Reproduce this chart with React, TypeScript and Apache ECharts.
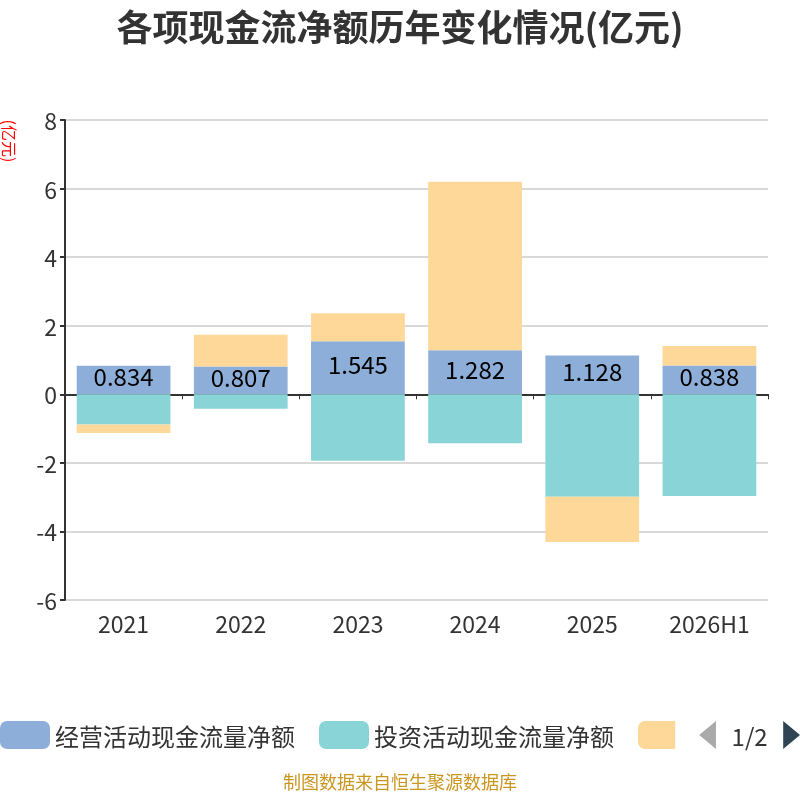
import * as echarts from 'echarts';
import { useEffect, useRef } from 'react';

const years = ['2021', '2022', '2023', '2024', '2025', '2026H1'];
const seriesNames = ['经营活动现金流量净额', '投资活动现金流量净额', '筹资活动现金流量净额'];
const operating = [0.834, 0.807, 1.545, 1.282, 1.128, 0.838];
const investing = [-0.88, -0.42, -1.94, -1.43, -2.99, -2.97];
const financing = [-0.25, 0.93, 0.82, 4.92, -1.32, 0.57];
const colors = ['#8eaeda', '#88d4d7', '#fed899'];

const font = 'Noto Sans CJK SC';

export default function App() {
  const container = useRef<HTMLDivElement | null>(null);

  useEffect(() => {
    if (!container.current) return;
    const chart = echarts.init(container.current, null, { renderer: 'svg' });
    const values = [operating, investing, financing];
    chart.setOption({
      animation: false,
      color: colors,
      textStyle: { fontFamily: font },
      title: {
        text: '各项现金流净额历年变化情况(亿元)',
        left: 'center',
        top: 2,
        textStyle: { fontSize: 36, fontWeight: 'bold', color: '#333', fontFamily: font },
      },
      graphic: [
        {
          type: 'text',
          x: 2,
          y: 141,
          rotation: -Math.PI / 2,
          style: {
            text: '(亿元)',
            fill: '#ff0000',
            fontSize: 16,
            fontFamily: font,
            align: 'center',
            verticalAlign: 'bottom',
          },
        },
        {
          type: 'text',
          left: 'center',
          top: 772,
          style: {
            text: '制图数据来自恒生聚源数据库',
            fill: '#c9961f',
            fontSize: 18,
            fontFamily: font,
          },
        },
      ],
      legend: {
        type: 'scroll',
        left: 0,
        right: 0,
        top: 721,
        padding: 0,
        itemWidth: 50,
        itemHeight: 28,
        itemGap: 24,
        textStyle: { fontSize: 24, color: '#333', fontFamily: font },
        pageIconSize: [17, 28],
        pageIconColor: '#2f4554',
        pageIconInactiveColor: '#aaa',
        pageTextStyle: { fontSize: 24, color: '#333', fontFamily: font },
        data: seriesNames,
      },
      grid: { left: 65, right: 32, top: 120, bottom: 200 },
      xAxis: [
        {
          type: 'category',
          data: years,
          position: 'bottom',
          axisLine: { show: false, onZero: false },
          axisTick: { show: false },
          axisLabel: { fontSize: 23, color: '#333', margin: 11 },
        },
        {
          type: 'category',
          data: years,
          position: 'bottom',
          axisLine: { show: true, onZero: true, lineStyle: { color: '#333', width: 2 } },
          axisTick: { show: true, lineStyle: { color: '#333' } },
          axisLabel: { show: false },
        },
      ],
      yAxis: {
        type: 'value',
        min: -6,
        max: 8,
        interval: 2,
        axisLine: { show: true, lineStyle: { color: '#333', width: 2 } },
        axisTick: { show: true, lineStyle: { color: '#333', width: 2 } },
        axisLabel: { fontSize: 23, color: '#333' },
        splitLine: { lineStyle: { color: '#ccc', width: 1.5 } },
      },
      series: seriesNames.map((name, i) => ({
        name,
        type: 'bar',
        stack: 'total',
        barCategoryGap: '20%',
        data: values[i],
        label:
          i === 0
            ? {
                show: true,
                position: 'inside',
                offset: [0, -4],
                fontSize: 24,
                color: '#000',
                fontFamily: font,
              }
            : { show: false },
      })),
    } as echarts.EChartsOption);
    return () => {
      chart.dispose();
    };
  }, []);

  return (
    <div
      ref={container}
      style={{ position: 'fixed', left: 0, top: 0, width: 800, height: 800 }}
    />
  );
}
